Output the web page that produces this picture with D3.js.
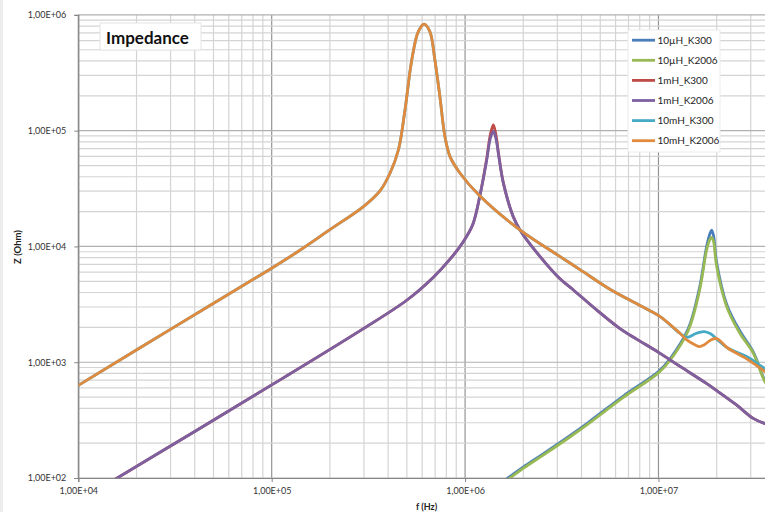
<!DOCTYPE html>
<html>
<head>
<meta charset="utf-8">
<script src="https://cdn.jsdelivr.net/npm/d3@7"></script>
<style>
  body { margin: 0; background: #fff; }
  svg { display: block; font-family: Lato, "Open Sans", sans-serif; }
</style>
</head>
<body>
<div id="chart"></div>
<script>
// series names in Excel draw order (later ones on top)
var seriesNames = ['10µH_K300', '10µH_K2006', '1mH_K300', '1mH_K2006', '10mH_K300', '10mH_K2006'];
var seriesColors = ['#4a7ebb', '#98b954', '#be4b48', '#7d60a0', '#46aac5', '#e08a3e'];

// frequency grids (Hz), one per inductor value
var freq10uH = [1.585e6, 1.995e6, 2.512e6, 3.483e6, 4.385e6, 6.607e6, 1e7, 1.148e7, 1.426e7, 1.633e7,
    1.774e7, 1.845e7, 1.884e7, 1.928e7, 2.0e7, 2.254e7, 2.636e7, 3.09e7, 3.556e7, 4e7];
var freq1mH = [1.51e4, 3.98e4, 1e5, 1.245e5, 2.98e5, 4.99e5, 6.86e5, 8.36e5, 9.79e5, 1.096e6, 1.19e6,
    1.294e6, 1.349e6, 1.4e6, 1.445e6, 1.496e6, 1.578e6, 1.774e6, 1.923e6, 2.443e6, 3.097e6, 3.631e6,
    4.786e6, 6.324e6, 7.709e6, 1e7, 1.318e7, 1.778e7, 2.0e7, 2.512e7, 3.09e7, 3.556e7, 4e7];
var freq10mH = [1e4, 3.16e4, 1e5, 1.35e5, 2e5, 2.98e5, 3.63e5, 4.09e5, 4.52e5, 4.89e5, 5.3e5, 5.73e5,
    6.14e5, 6.58e5, 6.98e5, 7.41e5, 7.87e5, 8.36e5, 9.42e5, 1.19e6, 1.92e6, 3.1e6, 3.93e6, 5.61e6,
    8.02e6, 1.02e7, 1.29e7, 1.4e7, 1.55e7, 1.63e7, 1.72e7, 1.86e7, 2.0e7, 2.29e7, 2.86e7, 3.56e7, 4e7];

// impedance (Ohm)
var z10uH_K300 = [94, 124, 160, 232, 306, 513, 830, 1070, 1950, 4470,
    10000, 12900, 13800, 12300, 7240, 3160, 1860, 1230, 692, 537];
var z10uH_K2006 = [91, 121, 156, 226, 298, 500, 810, 1040, 1880, 4210,
    9330, 11500, 12000, 11000, 6700, 3020, 1780, 1200, 678, 525];
var z1mH_K300 = [95, 251, 637, 794, 1950, 3430, 5430, 7760, 11000, 15500, 26900,
    57500, 91200, 112000, 91200, 60300, 35200, 18100, 13900, 8170, 5250, 4210,
    2830, 1950, 1585, 1216, 902, 653, 569, 432, 327, 295, 282];
var z1mH_K2006 = [95, 251, 637, 794, 1950, 3430, 5430, 7760, 11000, 15500, 26900,
    55800, 85100, 98900, 85100, 58900, 35200, 18100, 13900, 8170, 5250, 4210,
    2830, 1950, 1585, 1216, 902, 653, 569, 432, 327, 295, 282];
var z10mH_K300 = [631, 2030, 6490, 8910, 13960, 22100, 30200, 42900, 68100, 151000, 408000, 716000,
    834000, 716000, 408000, 197000, 88700, 59700, 42900, 27400, 13900, 8170, 6310, 4270,
    3090, 2480, 1780, 1640, 1760, 1810, 1840, 1760, 1585, 1320, 1120, 880, 795];
var z10mH_K2006 = [631, 2030, 6490, 8910, 13960, 22100, 30200, 42900, 68100, 151000, 408000, 716000,
    834000, 716000, 408000, 197000, 88700, 59700, 42900, 27400, 13900, 8170, 6310, 4270,
    3090, 2480, 1780, 1560, 1410, 1365, 1410, 1550, 1600, 1320, 1070, 830, 740];

// axis ticks
var xTicks = [1e4, 1e5, 1e6, 1e7];
var xTickLabels = ['1,00E+04', '1,00E+05', '1,00E+06', '1,00E+07'];
var yTicks = [1e2, 1e3, 1e4, 1e5, 1e6];
var yTickLabels = ['1,00E+02', '1,00E+03', '1,00E+04', '1,00E+05', '1,00E+06'];

var width = 765, height = 512;
var plotLeft = 78.3, plotRight = 774.9, plotTop = 14.9, plotBottom = 478;

var x = d3.scaleLog().domain([1e4, 4e7]).range([plotLeft, plotRight]);
var y = d3.scaleLog().domain([1e2, 1e6]).range([plotBottom, plotTop]);

var svg = d3.select('#chart').append('svg')
    .attr('width', width)
    .attr('height', height);

svg.append('rect').attr('x', 0).attr('y', 0).attr('width', 3).attr('height', height).attr('fill', '#ededed');

// grid lines
var gridX = [], gridY = [];
for (var e = 4; e <= 7; e++) {
    for (var k = 1; k <= 9; k++) {
        var v = k * Math.pow(10, e);
        if (v <= 4e7) gridX.push({ v: v, major: k === 1 });
    }
}
for (var e2 = 2; e2 <= 5; e2++) {
    for (var k2 = 1; k2 <= 9; k2++) gridY.push({ v: k2 * Math.pow(10, e2), major: k2 === 1 });
}
gridY.push({ v: 1e6, major: true });

var grid = svg.append('g');
grid.selectAll('.gx').data(gridX).enter().append('line')
    .attr('x1', function (d) { return x(d.v); })
    .attr('x2', function (d) { return x(d.v); })
    .attr('y1', plotTop).attr('y2', plotBottom)
    .attr('stroke', function (d) { return d.major ? '#949494' : '#d4d4d4'; })
    .attr('stroke-width', 1.2);
grid.selectAll('.gy').data(gridY).enter().append('line')
    .attr('y1', function (d) { return y(d.v); })
    .attr('y2', function (d) { return y(d.v); })
    .attr('x1', plotLeft).attr('x2', plotRight)
    .attr('stroke', function (d) { return d.major ? '#b0b0b0' : '#d4d4d4'; })
    .attr('stroke-width', 1.2);

// axes
var xAxis = svg.append('g')
    .attr('transform', 'translate(0,' + plotBottom + ')')
    .call(d3.axisBottom(x).tickValues(xTicks).tickSize(4).tickPadding(6)
        .tickFormat(function (d, i) { return xTickLabels[i]; }));
var yAxis = svg.append('g')
    .attr('transform', 'translate(' + plotLeft + ',0)')
    .call(d3.axisLeft(y).tickValues(yTicks).tickSize(4).tickPadding(8)
        .tickFormat(function (d, i) { return yTickLabels[i]; }));

[xAxis, yAxis].forEach(function (a) {
    a.select('.domain').attr('stroke', '#868686').attr('stroke-width', 1.2);
    a.selectAll('.tick line').attr('stroke', '#868686');
    a.selectAll('.tick text')
        .attr('fill', '#333')
        .style('font-size', '9px')
        .style('font-family', 'Lato, sans-serif');
});

// series lines
var series = seriesNames.map(function (name, i) {
    var f = [freq10uH, freq10uH, freq1mH, freq1mH, freq10mH, freq10mH][i];
    var z = [z10uH_K300, z10uH_K2006, z1mH_K300, z1mH_K2006, z10mH_K300, z10mH_K2006][i];
    return { name: name, color: seriesColors[i], values: f.map(function (fv, j) { return [fv, z[j]]; }) };
});

svg.append('clipPath').attr('id', 'plotClip')
    .append('rect')
    .attr('x', plotLeft).attr('y', plotTop)
    .attr('width', plotRight - plotLeft).attr('height', plotBottom - plotTop);

var line = d3.line()
    .x(function (d) { return x(d[0]); })
    .y(function (d) { return y(d[1]); })
    .curve(d3.curveCatmullRom.alpha(0.5));

svg.append('g').attr('clip-path', 'url(#plotClip)')
    .selectAll('path')
    .data(series)
    .enter().append('path')
    .attr('d', function (d) { return line(d.values); })
    .attr('fill', 'none')
    .attr('stroke', function (d) { return d.color; })
    .attr('stroke-width', 2.8)
    .attr('stroke-linejoin', 'round');

// title box
var title = svg.append('g');
title.append('rect')
    .attr('x', 100).attr('y', 23).attr('width', 101).attr('height', 27)
    .attr('fill', '#fff').attr('stroke', '#e4e4e4');
title.append('text')
    .attr('x', 106).attr('y', 43.5)
    .style('font-size', '17px').style('font-weight', 'bold')
    .attr('fill', '#111')
    .text('Impedance');

// axis titles
svg.append('text')
    .attr('transform', 'translate(21,247) rotate(-90)')
    .attr('text-anchor', 'middle')
    .style('font-size', '9.5px').style('font-weight', 'bold')
    .attr('fill', '#222')
    .text('Z (Ohm)');
svg.append('text')
    .attr('x', (plotLeft + plotRight) / 2).attr('y', 510)
    .attr('text-anchor', 'middle')
    .style('font-size', '9px').style('font-weight', 'bold')
    .attr('fill', '#222')
    .text('f (Hz)');

// legend
var legend = svg.append('g');
legend.append('rect')
    .attr('x', 628).attr('y', 30).attr('width', 92).attr('height', 122)
    .attr('fill', '#fff').attr('stroke', '#ececec');
var keys = legend.selectAll('.key')
    .data(series.slice())
    .enter().append('g')
    .attr('class', 'key')
    .attr('transform', function (d, i) { return 'translate(0,' + (40.2 + i * 20.1) + ')'; });
keys.append('line')
    .attr('x1', 632).attr('x2', 655)
    .attr('stroke', function (d) { return d.color; })
    .attr('stroke-width', 2.8);
keys.append('text')
    .attr('x', 657.5).attr('dy', '0.35em')
    .style('font-size', '10px')
    .attr('fill', '#222')
    .text(function (d) { return d.name; });
</script>
</body>
</html>
